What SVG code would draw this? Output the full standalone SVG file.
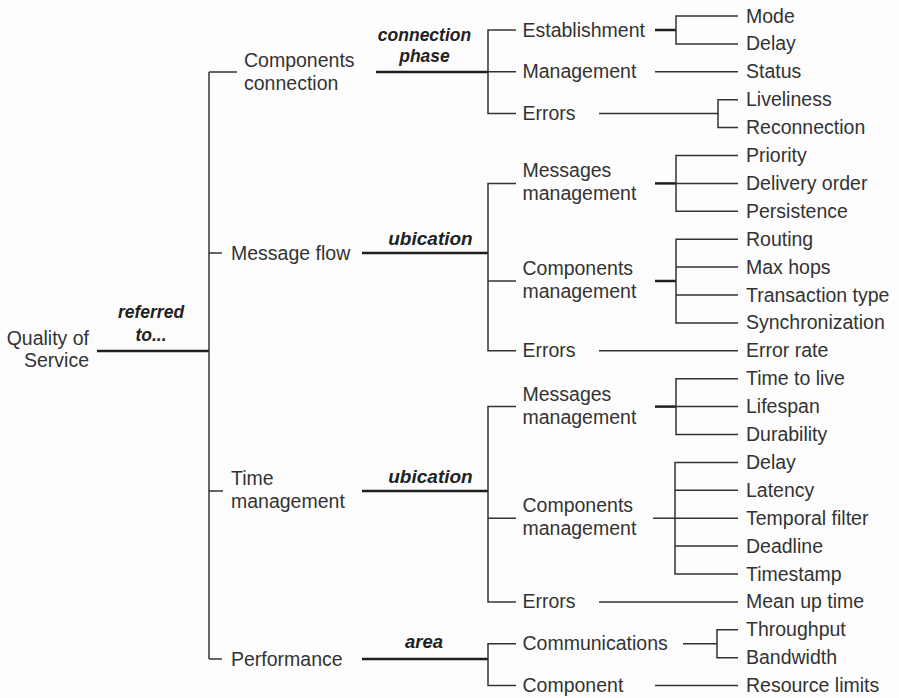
<svg xmlns="http://www.w3.org/2000/svg" width="899" height="698" viewBox="0 0 899 698">
  <style>
    .t { font-family: "Liberation Sans", Arial, sans-serif; font-size: 19.5px; fill: #333; }
    .lbl { font-family: "Liberation Sans", Arial, sans-serif; font-weight: bold; font-style: italic; fill: #222; text-anchor: middle; }
    .thin { stroke: #333; stroke-width: 1.5; fill: none; }
    .thick { stroke: #1e1e1e; stroke-width: 2.5; fill: none; }
  </style>
  <rect x="0" y="0" width="899" height="698" fill="#fdfdfd"/>

  <!-- connectors -->
  <g id="connectors">
    <!-- root to first level -->
    <line class="thick" x1="97" y1="351" x2="209" y2="351"/>
    <line class="thin" x1="209" y1="72" x2="209" y2="659"/>
    <line class="thin" x1="209" y1="72" x2="237" y2="72"/>
    <line class="thin" x1="209" y1="253" x2="222" y2="253"/>
    <line class="thin" x1="209" y1="491" x2="223" y2="491"/>
    <line class="thin" x1="209" y1="659" x2="222" y2="659"/>

    <!-- first level to second level -->
    <line class="thick" x1="376" y1="72" x2="488" y2="72"/>
    <line class="thick" x1="362" y1="253" x2="488" y2="253"/>
    <line class="thick" x1="362" y1="491" x2="488" y2="491"/>
    <line class="thick" x1="362" y1="659" x2="488" y2="659"/>

    <!-- second level brackets -->
    <path class="thin" d="M516 30 H488 V113.6 H516 M488 71.8 H516"/>
    <path class="thin" d="M516 183.4 H488 V350.8 H516 M488 281 H516"/>
    <path class="thin" d="M516 406.6 H488 V601.9 H516 M488 518.2 H516"/>
    <path class="thin" d="M516 643.8 H488 V685.6 H516"/>

    <!-- components connection leaves -->
    <line class="thick" x1="655" y1="30" x2="676" y2="30"/>
    <path class="thin" d="M738 16 H676 V43.9 H738"/>
    <line class="thin" x1="655" y1="71.8" x2="738" y2="71.8"/>
    <line class="thin" x1="599" y1="113.6" x2="718" y2="113.6"/>
    <path class="thin" d="M738 99.7 H718 V127.6 H738"/>

    <!-- message flow leaves -->
    <line class="thick" x1="655" y1="183.4" x2="676" y2="183.4"/>
    <path class="thin" d="M738 155.5 H676 V211.3 H738 M676 183.4 H738"/>
    <line class="thick" x1="655" y1="281" x2="676" y2="281"/>
    <path class="thin" d="M738 239.2 H676 V322.9 H738 M676 267.1 H738 M676 295 H738"/>
    <line class="thin" x1="599" y1="350.8" x2="738" y2="350.8"/>

    <!-- time management leaves -->
    <line class="thick" x1="655" y1="406.6" x2="676" y2="406.6"/>
    <path class="thin" d="M738 378.7 H676 V434.5 H738 M676 406.6 H738"/>
    <line class="thin" x1="653" y1="518.2" x2="675" y2="518.2"/>
    <path class="thin" d="M738 462.4 H675 V574 H738 M675 490.3 H738 M675 518.2 H738 M675 546.1 H738"/>
    <line class="thin" x1="599" y1="601.9" x2="738" y2="601.9"/>

    <!-- performance leaves -->
    <line class="thin" x1="683" y1="643.8" x2="717" y2="643.8"/>
    <path class="thin" d="M738 629.8 H717 V657.7 H738"/>
    <line class="thin" x1="655" y1="685.6" x2="738" y2="685.6"/>
  </g>

  <!-- edge labels -->
  <g id="edge-labels">
    <text class="lbl" font-size="17.5" x="151" y="318">referred</text>
    <text class="lbl" font-size="17.5" x="151" y="340.5">to...</text>
    <text class="lbl" font-size="17.5" x="424.5" y="41">connection</text>
    <text class="lbl" font-size="17.5" x="424.5" y="62">phase</text>
    <text class="lbl" font-size="19" x="430.5" y="244.5">ubication</text>
    <text class="lbl" font-size="19" x="430.5" y="482.5">ubication</text>
    <text class="lbl" font-size="18.5" x="424" y="648">area</text>
  </g>

  <!-- root -->
  <g id="quality-of-service">
    <text class="t" x="89" y="345" text-anchor="end">Quality of</text>
    <text class="t" x="89" y="367" text-anchor="end">Service</text>
  </g>

  <!-- first level -->
  <g id="components-connection">
    <text class="t" x="244" y="66.5">Components</text>
    <text class="t" x="244" y="89.5">connection</text>
  </g>
  <g id="message-flow">
    <text class="t" x="231" y="259.5">Message flow</text>
  </g>
  <g id="time-management">
    <text class="t" x="231" y="485">Time</text>
    <text class="t" x="231" y="508">management</text>
  </g>
  <g id="performance">
    <text class="t" x="231" y="665.5">Performance</text>
  </g>

  <!-- second level -->
  <g id="cc-establishment"><text class="t" x="522.5" y="36.5">Establishment</text></g>
  <g id="cc-management"><text class="t" x="522.5" y="78.3">Management</text></g>
  <g id="cc-errors"><text class="t" x="522.5" y="120.1">Errors</text></g>

  <g id="mf-messages-management">
    <text class="t" x="522.5" y="177.4">Messages</text>
    <text class="t" x="522.5" y="200.4">management</text>
  </g>
  <g id="mf-components-management">
    <text class="t" x="522.5" y="275">Components</text>
    <text class="t" x="522.5" y="298">management</text>
  </g>
  <g id="mf-errors"><text class="t" x="522.5" y="357.3">Errors</text></g>

  <g id="tm-messages-management">
    <text class="t" x="522.5" y="400.6">Messages</text>
    <text class="t" x="522.5" y="423.6">management</text>
  </g>
  <g id="tm-components-management">
    <text class="t" x="522.5" y="512.2">Components</text>
    <text class="t" x="522.5" y="535.2">management</text>
  </g>
  <g id="tm-errors"><text class="t" x="522.5" y="608.4">Errors</text></g>

  <g id="pf-communications"><text class="t" x="522.5" y="650.3">Communications</text></g>
  <g id="pf-component"><text class="t" x="522.5" y="692.1">Component</text></g>

  <!-- leaves -->
  <g id="leaf-mode"><text class="t" x="746" y="22.5">Mode</text></g>
  <g id="leaf-delay-1"><text class="t" x="746" y="50.4">Delay</text></g>
  <g id="leaf-status"><text class="t" x="746" y="78.3">Status</text></g>
  <g id="leaf-liveliness"><text class="t" x="746" y="106.2">Liveliness</text></g>
  <g id="leaf-reconnection"><text class="t" x="746" y="134.1">Reconnection</text></g>
  <g id="leaf-priority"><text class="t" x="746" y="162">Priority</text></g>
  <g id="leaf-delivery-order"><text class="t" x="746" y="189.9">Delivery order</text></g>
  <g id="leaf-persistence"><text class="t" x="746" y="217.8">Persistence</text></g>
  <g id="leaf-routing"><text class="t" x="746" y="245.7">Routing</text></g>
  <g id="leaf-max-hops"><text class="t" x="746" y="273.6">Max hops</text></g>
  <g id="leaf-transaction-type"><text class="t" x="746" y="301.5">Transaction type</text></g>
  <g id="leaf-synchronization"><text class="t" x="746" y="329.4">Synchronization</text></g>
  <g id="leaf-error-rate"><text class="t" x="746" y="357.3">Error rate</text></g>
  <g id="leaf-time-to-live"><text class="t" x="746" y="385.2">Time to live</text></g>
  <g id="leaf-lifespan"><text class="t" x="746" y="413.1">Lifespan</text></g>
  <g id="leaf-durability"><text class="t" x="746" y="441">Durability</text></g>
  <g id="leaf-delay-2"><text class="t" x="746" y="468.9">Delay</text></g>
  <g id="leaf-latency"><text class="t" x="746" y="496.8">Latency</text></g>
  <g id="leaf-temporal-filter"><text class="t" x="746" y="524.7">Temporal filter</text></g>
  <g id="leaf-deadline"><text class="t" x="746" y="552.6">Deadline</text></g>
  <g id="leaf-timestamp"><text class="t" x="746" y="580.5">Timestamp</text></g>
  <g id="leaf-mean-up-time"><text class="t" x="746" y="608.4">Mean up time</text></g>
  <g id="leaf-throughput"><text class="t" x="746" y="636.3">Throughput</text></g>
  <g id="leaf-bandwidth"><text class="t" x="746" y="664.2">Bandwidth</text></g>
  <g id="leaf-resource-limits"><text class="t" x="746" y="692.1">Resource limits</text></g>
</svg>
